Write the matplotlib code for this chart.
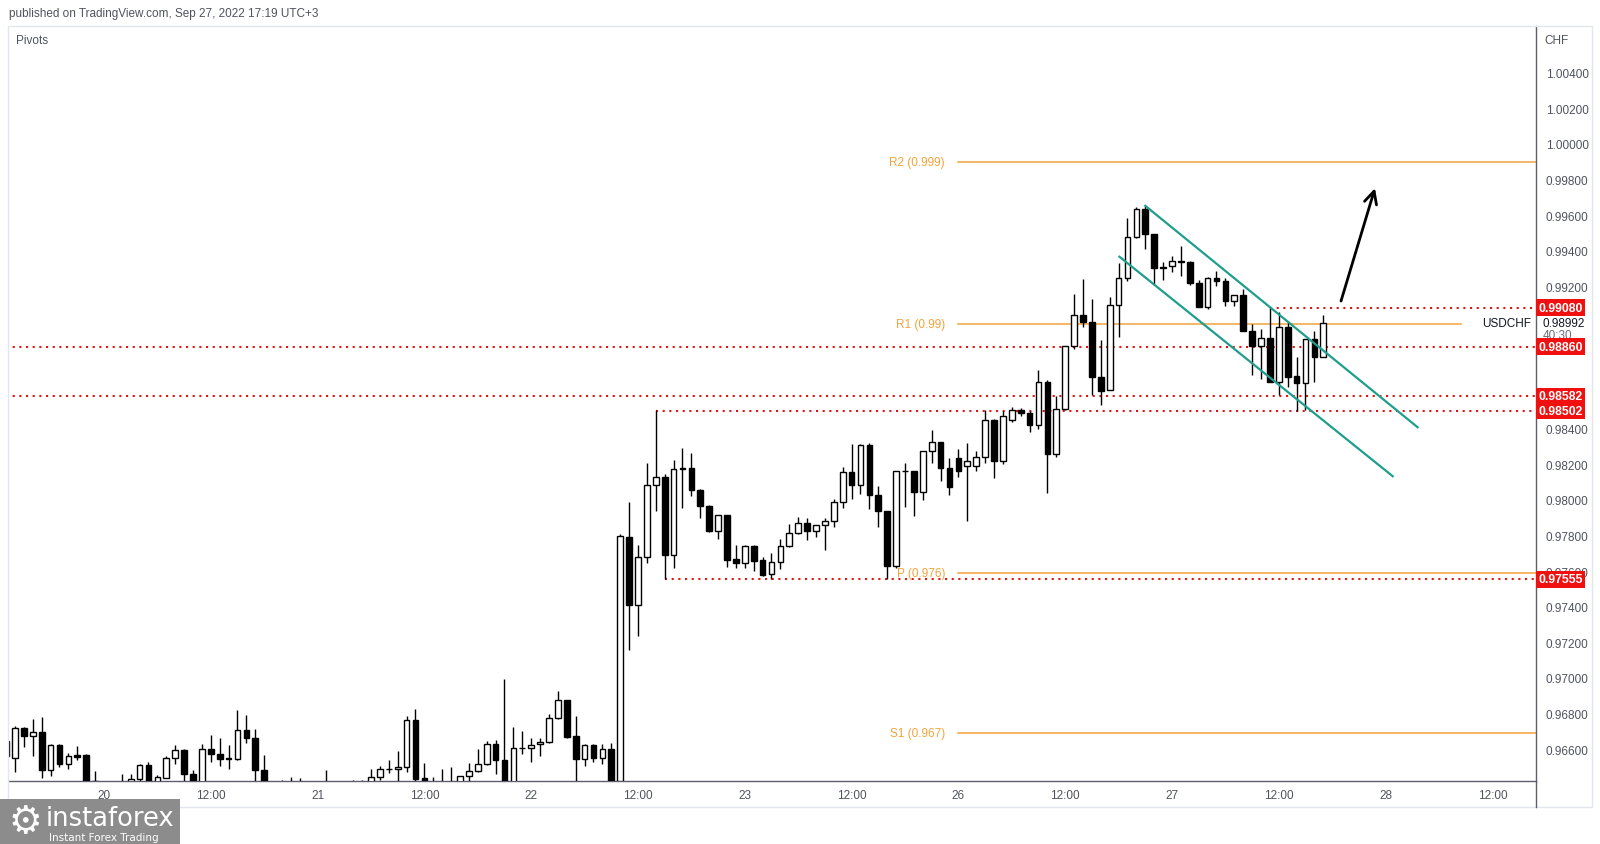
import numpy as np
import matplotlib.pyplot as plt
from matplotlib.patches import Rectangle
from matplotlib.lines import Line2D
import matplotlib.transforms as mtransforms

plt.rcParams['font.family'] = ['Liberation Sans Narrow', 'Liberation Sans', 'DejaVu Sans']

# hourly USDCHF candles, index 0 = Sep 20 00:00 (UTC+3), weekend removed
hours = np.arange(-11, 138)

opens = [
    0.96562, 0.96550, 0.96718, 0.96671, 0.96697, 0.96480, 0.96624, 0.96519, 0.96568, 0.96568, 0.96422,
    # Sep 20
    0.96405, 0.96400, 0.96360, 0.96390, 0.96431, 0.96512, 0.96380, 0.96440, 0.96550, 0.96596, 0.96460, 0.96370,
    0.96600, 0.96575, 0.96549, 0.96544, 0.96707, 0.96665, 0.96484, 0.96360, 0.96370, 0.96380, 0.96370, 0.96380,
    # Sep 21
    0.96360, 0.96370, 0.96360, 0.96380, 0.96410, 0.96402, 0.96390, 0.96444, 0.96491, 0.96488, 0.96497, 0.96765,
    0.96439, 0.96370, 0.96380, 0.96370, 0.96390, 0.96448, 0.96476, 0.96516, 0.96628, 0.96538, 0.96380, 0.96604,
    # Sep 22
    0.96606, 0.96628, 0.96639, 0.96774, 0.96875, 0.96673, 0.96542, 0.96622, 0.96553, 0.96600, 0.96420, 0.97794,
    0.97409, 0.97677, 0.98083, 0.98130, 0.97690, 0.98175, 0.98178, 0.98058, 0.97967, 0.97823, 0.97915, 0.97668,
    # Sep 23
    0.97643, 0.97742, 0.97664, 0.97583, 0.97651, 0.97740, 0.97814, 0.97870, 0.97825, 0.97859, 0.97881, 0.97988,
    0.98156, 0.98081, 0.98310, 0.98030, 0.97937, 0.97626, 0.98163, 0.98160, 0.98047, 0.98272, 0.98323, 0.98177,
    # Sep 26
    0.98237, 0.98190, 0.98190, 0.98241, 0.98448, 0.98220, 0.98450, 0.98505, 0.98490, 0.98420, 0.98662, 0.98260,
    0.98508, 0.98866, 0.99038, 0.98997, 0.98692, 0.98617, 0.99094, 0.99249, 0.99474, 0.99634, 0.99493, 0.99302,
    # Sep 27
    0.99315, 0.99343, 0.99334, 0.99221, 0.99085, 0.99246, 0.99231, 0.99115, 0.99151, 0.98950, 0.98862, 0.98909,
    0.98665, 0.98973, 0.98697, 0.98654, 0.98903, 0.98800,
]
highs = [
    0.96665, 0.96731, 0.96725, 0.96769, 0.96782, 0.96628, 0.96628, 0.96578, 0.96619, 0.96570, 0.96478,
    0.96418, 0.96418, 0.96463, 0.96460, 0.96516, 0.96529, 0.96456, 0.96562, 0.96624, 0.96600, 0.96482, 0.96628,
    0.96680, 0.96662, 0.96624, 0.96821, 0.96793, 0.96712, 0.96568, 0.96390, 0.96426, 0.96444, 0.96440, 0.96422,
    0.96390, 0.96484, 0.96390, 0.96422, 0.96426, 0.96426, 0.96488, 0.96506, 0.96540, 0.96591, 0.96787, 0.96825,
    0.96521, 0.96444, 0.96488, 0.96501, 0.96450, 0.96521, 0.96600, 0.96647, 0.96652, 0.96993, 0.96722, 0.96703,
    0.96665, 0.96665, 0.96797, 0.96928, 0.96877, 0.96787, 0.96628, 0.96628, 0.96628, 0.96632, 0.97810, 0.97989,
    0.97748, 0.98205, 0.98505, 0.98145, 0.98224, 0.98291, 0.98263, 0.98060, 0.97970, 0.97916, 0.97916, 0.97748,
    0.97748, 0.97745, 0.97680, 0.97701, 0.97780, 0.97864, 0.97905, 0.97896, 0.97860, 0.97901, 0.98004, 0.98182,
    0.98314, 0.98314, 0.98319, 0.98079, 0.97940, 0.98163, 0.98210, 0.98163, 0.98276, 0.98392, 0.98326, 0.98238,
    0.98285, 0.98317, 0.98276, 0.98505, 0.98454, 0.98500, 0.98520, 0.98515, 0.98500, 0.98729, 0.98673, 0.98585,
    0.98866, 0.99156, 0.99241, 0.99128, 0.98898, 0.99141, 0.99328, 0.99583, 0.99647, 0.99652, 0.99495, 0.99338,
    0.99371, 0.99428, 0.99343, 0.99235, 0.99253, 0.99283, 0.99249, 0.99152, 0.99184, 0.98988, 0.98960, 0.99085,
    0.99053, 0.98997, 0.98800, 0.98903, 0.98950, 0.99038,
]
lows = [
    0.96550, 0.96469, 0.96613, 0.96562, 0.96440, 0.96450, 0.96497, 0.96488, 0.96538, 0.96415, 0.96330,
    0.96360, 0.96360, 0.96330, 0.96360, 0.96422, 0.96350, 0.96360, 0.96440, 0.96519, 0.96370, 0.96340, 0.96350,
    0.96530, 0.96506, 0.96486, 0.96538, 0.96632, 0.96418, 0.96340, 0.96320, 0.96340, 0.96350, 0.96350, 0.96350,
    0.96320, 0.96340, 0.96330, 0.96350, 0.96370, 0.96370, 0.96370, 0.96426, 0.96465, 0.96380, 0.96474, 0.96370,
    0.96340, 0.96350, 0.96340, 0.96350, 0.96370, 0.96380, 0.96474, 0.96512, 0.96458, 0.96340, 0.96360, 0.96575,
    0.96525, 0.96562, 0.96636, 0.96769, 0.96665, 0.96370, 0.96506, 0.96530, 0.96516, 0.96380, 0.96400, 0.97156,
    0.97237, 0.97648, 0.97935, 0.97555, 0.97620, 0.97957, 0.98023, 0.97901, 0.97820, 0.97783, 0.97624, 0.97620,
    0.97615, 0.97602, 0.97572, 0.97555, 0.97611, 0.97738, 0.97808, 0.97776, 0.97789, 0.97718, 0.97845, 0.97954,
    0.98005, 0.98033, 0.97948, 0.97845, 0.97555, 0.97615, 0.97961, 0.97911, 0.98001, 0.98210, 0.98107, 0.98029,
    0.98130, 0.97883, 0.98160, 0.98210, 0.98123, 0.98200, 0.98440, 0.98470, 0.98380, 0.98400, 0.98040, 0.98240,
    0.98505, 0.98847, 0.98969, 0.98589, 0.98533, 0.98615, 0.98916, 0.99227, 0.99471, 0.99412, 0.99209, 0.99235,
    0.99278, 0.99259, 0.99209, 0.99081, 0.99072, 0.99199, 0.99087, 0.99087, 0.98946, 0.98703, 0.98679, 0.98665,
    0.98589, 0.98632, 0.98501, 0.98505, 0.98660, 0.98800,
]
closes = [
    0.96647, 0.96718, 0.96671, 0.96697, 0.96480, 0.96624, 0.96519, 0.96561, 0.96557, 0.96418, 0.96350,
    0.96400, 0.96405, 0.96370, 0.96433, 0.96512, 0.96380, 0.96444, 0.96550, 0.96596, 0.96458, 0.96370, 0.96600,
    0.96575, 0.96547, 0.96544, 0.96707, 0.96665, 0.96480, 0.96370, 0.96350, 0.96380, 0.96370, 0.96380, 0.96370,
    0.96350, 0.96360, 0.96370, 0.96370, 0.96402, 0.96412, 0.96444, 0.96491, 0.96488, 0.96501, 0.96765, 0.96435,
    0.96370, 0.96380, 0.96370, 0.96380, 0.96448, 0.96476, 0.96516, 0.96628, 0.96538, 0.96370, 0.96606, 0.96606,
    0.96626, 0.96641, 0.96774, 0.96875, 0.96669, 0.96542, 0.96622, 0.96553, 0.96600, 0.96418, 0.97798, 0.97409,
    0.97679, 0.98083, 0.98130, 0.97690, 0.98175, 0.98178, 0.98058, 0.97967, 0.97823, 0.97915, 0.97665, 0.97643,
    0.97742, 0.97658, 0.97579, 0.97651, 0.97740, 0.97814, 0.97870, 0.97825, 0.97859, 0.97881, 0.97988, 0.98156,
    0.98081, 0.98310, 0.98030, 0.97937, 0.97626, 0.98163, 0.98160, 0.98047, 0.98272, 0.98323, 0.98177, 0.98070,
    0.98163, 0.98218, 0.98241, 0.98448, 0.98220, 0.98470, 0.98505, 0.98490, 0.98420, 0.98662, 0.98260, 0.98508,
    0.98866, 0.99038, 0.98997, 0.98688, 0.98613, 0.99094, 0.99249, 0.99474, 0.99634, 0.99493, 0.99300, 0.99311,
    0.99343, 0.99334, 0.99221, 0.99085, 0.99246, 0.99227, 0.99115, 0.99151, 0.98946, 0.98862, 0.98909, 0.98665,
    0.98969, 0.98692, 0.98654, 0.98903, 0.98800, 0.98992,
]

# weekly pivots (start Monday Sep 26)
pivot_names = ['R2 (0.999)', 'R1 (0.99)', 'P (0.976)', 'S1 (0.967)']
pivot_values = [0.99898, 0.98988, 0.97589, 0.96688]
pivot_start = 96

# red dotted levels: value, start hour
level_values = [0.99080, 0.98860, 0.98582, 0.98502, 0.97555]
level_start = [131, -11, -11, 62, 63]

# descending channel drawn on the chart
chan_up_x = [117.0, 147.6]
chan_up_y = [0.99652, 0.98408]
chan_lo_x = [114.1, 144.8]
chan_lo_y = [0.99366, 0.98133]
arrow_from = (138.9, 0.99102)
arrow_to = (142.9, 0.99766)

last_price = 0.98992

xtick_pos = [0, 12, 24, 36, 48, 60, 72, 84, 96, 108, 120, 132, 144, 156]
xtick_lab = ['20', '12:00', '21', '12:00', '22', '12:00', '23', '12:00', '26', '12:00', '27', '12:00', '28', '12:00']
# 0.986 / 0.988 / 0.990 are hidden behind the price labels in the chart
ytick_vals = [0.966, 0.968, 0.970, 0.972, 0.974, 0.976, 0.978, 0.980, 0.982, 0.984,
              0.992, 0.994, 0.996, 0.998, 1.000, 1.002, 1.004]

W, H = 1600, 845
fig = plt.figure(figsize=(W / 100, H / 100), dpi=100)
fig.patch.set_facecolor('white')
ax = fig.add_axes([9 / W, 1 - 782 / H, 1527 / W, 755 / H])
ax.set_xlim(-10.67, 160.9)
ax.set_ylim(0.96421, 1.00662)

o = np.array(opens); hi = np.array(highs); lo = np.array(lows); c = np.array(closes)
up = c >= o
ax.vlines(hours, lo, hi, color='black', lw=1.0, zorder=3)
ax.bar(hours[up], (c - o)[up], bottom=o[up], width=0.64, color='white',
       edgecolor='black', lw=1.0, zorder=4)
ax.bar(hours[~up], (o - c)[~up], bottom=c[~up], width=0.64, color='black',
       edgecolor='black', lw=1.0, zorder=4)

orange = '#f2a33a'
for name, v in zip(pivot_names, pivot_values):
    xend = 152.5 if name.startswith('R1') else 160.9
    ax.plot([pivot_start, xend], [v, v], color=orange, lw=1.1, zorder=2)
    ax.text(pivot_start - 1.5, v, name, color=orange, fontsize=8.5,
            ha='right', va='center', zorder=2)

red = '#e31414'
ytr = mtransforms.blended_transform_factory(ax.transAxes, ax.transData)
for v, s in zip(level_values, level_start):
    ax.plot([s, 160.9], [v, v], color=red, lw=1.5, ls=(0, (1, 2.2)), zorder=2)
    ax.text(1.0016, v, f'{v:.5f}', transform=ytr, color='white', fontsize=8.8,
            fontweight='bold', ha='left', va='center', clip_on=False, zorder=6,
            bbox=dict(boxstyle='square,pad=0.2', fc='#f01010', ec='none'))

teal = '#1f9e8c'
ax.plot(chan_up_x, chan_up_y, color=teal, lw=1.6, zorder=5)
ax.plot(chan_lo_x, chan_lo_y, color=teal, lw=1.6, zorder=5)
ax.annotate('', xy=arrow_to, xytext=arrow_from,
            arrowprops=dict(arrowstyle='->,head_length=0.9,head_width=0.45',
                            color='black', lw=2.0), zorder=6)

# current price
ax.text(1.0045, last_price, f'{last_price:.5f}', transform=ytr, color='#131722',
        fontsize=8.5, ha='left', va='center', clip_on=False)
ax.text(1.0045, last_price - 0.00066, '40:30', transform=ytr, color='#6a6d78',
        fontsize=8.5, ha='left', va='center', clip_on=False)
ax.text(0.9968, last_price, 'USDCHF', transform=ytr, color='#131722',
        fontsize=8.5, ha='right', va='center')

ax.yaxis.tick_right()
ax.set_yticks(ytick_vals)
ax.set_yticklabels([f'{v:.5f}' for v in ytick_vals])
ax.set_xticks(xtick_pos)
ax.set_xticklabels(xtick_lab)
ax.tick_params(axis='both', length=0, labelsize=8.5, labelcolor='#50535e')
ax.tick_params(axis='y', pad=7)
ax.tick_params(axis='x', pad=6)
for sp in ['top', 'left']:
    ax.spines[sp].set_visible(False)
for sp in ['bottom', 'right']:
    ax.spines[sp].set_color('#5d606b')
    ax.spines[sp].set_linewidth(1.0)

# pane frame and texts
fig.add_artist(Rectangle((8 / W, 1 - 808 / H), 1584 / W, 781 / H, transform=fig.transFigure,
                         fill=False, ec='#e3e6ec', lw=1.0))
fig.add_artist(Line2D([1536 / W, 1536 / W], [1 - 808 / H, 1 - 782 / H], color='#5d606b', lw=1.0))
fig.text(318 / W, 1 - 14 / H, 'published on TradingView.com, Sep 27, 2022 17:19 UTC+3',
         ha='right', va='center', fontsize=8.5, color='#50535e')
fig.text(16 / W, 1 - 41 / H, 'Pivots', ha='left', va='center', fontsize=8.5, color='#50535e')
fig.text(1544 / W, 1 - 41 / H, 'CHF', ha='left', va='center', fontsize=8.5, color='#50535e')

# instaforex watermark
fig.add_artist(Rectangle((0, 0), 180 / W, 45 / H, transform=fig.transFigure,
                         fc='#8c8c8c', ec='none'))
fig.text(25 / W, 1 - 823 / H, '\u2699', ha='center', va='center', fontsize=27,
         color='white', family='DejaVu Sans')
fig.text(46 / W, 1 - 819 / H, 'instaforex', ha='left', va='center', fontsize=18.5,
         color='white', family='DejaVu Sans')
fig.text(49 / W, 1 - 838 / H, 'Instant Forex Trading', ha='left', va='center',
         fontsize=7.5, color='white', family='DejaVu Sans')

fig.savefig('out.png', dpi=100)
